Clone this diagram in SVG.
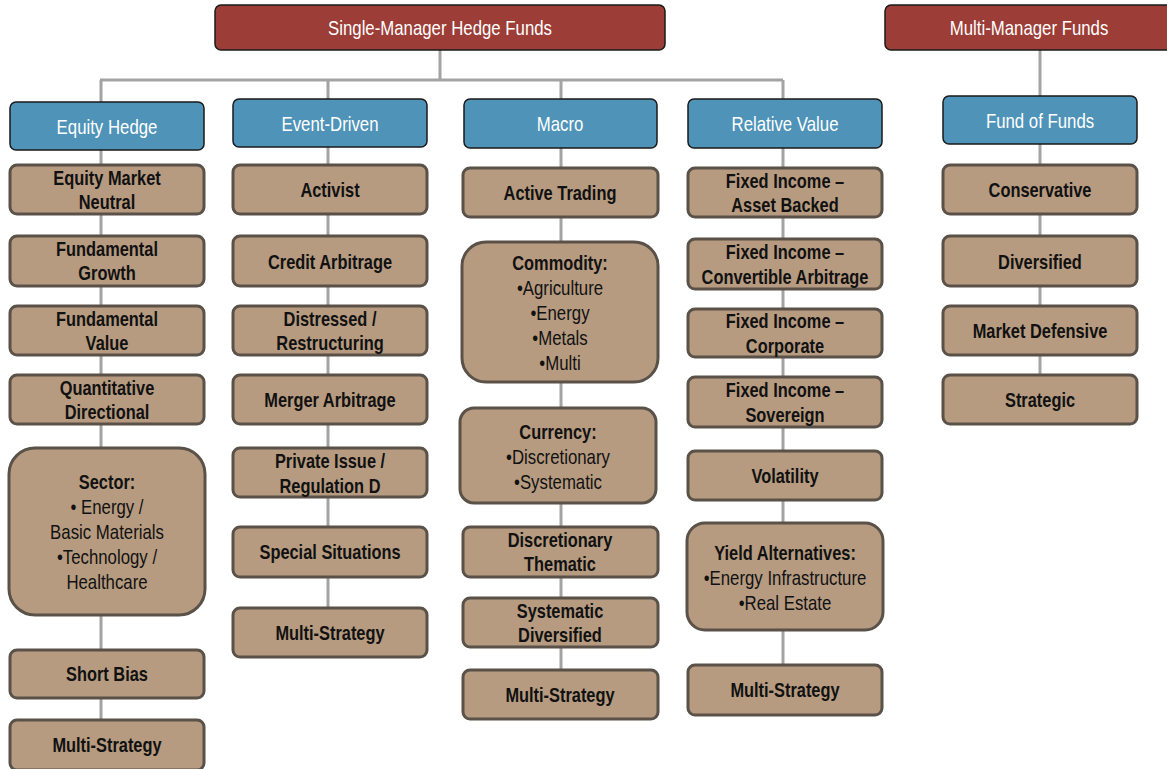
<svg xmlns="http://www.w3.org/2000/svg" width="1167" height="769" viewBox="0 0 1167 769">
<style>
.hdr{fill:#9c3d37;stroke:#1a1a1a;stroke-width:1.5}
.cat{fill:#4f93b8;stroke:#1a1a1a;stroke-width:1.5}
.sub{fill:#b69b80;stroke:#5a5149;stroke-width:3}
.conn{stroke:#a3a3a3;stroke-width:3;fill:none}
text{font-family:"Liberation Sans",Arial,sans-serif;text-anchor:middle;font-size:20px}
.ht{fill:#fff}
.ct{fill:#fff}
.st{fill:#111;font-weight:bold}
.bt{fill:#111;font-weight:normal}
</style>
<rect width="1167" height="769" fill="#fff"/>
<g id="connectors" class="conn">
<path d="M440 50V80M100 80H783M101 80V720M328 80V608M561 80V670M783 80V665M1040 50V375"/>
</g>
<g id="single-manager"><rect class="hdr" x="215" y="5" width="450" height="45" rx="6"/><text class="ht" transform="translate(440 35) scale(0.84 1)">Single-Manager Hedge Funds</text></g>
<g id="multi-manager"><rect class="hdr" x="885" y="5" width="290" height="45" rx="6"/><text class="ht" transform="translate(1029 35) scale(0.84 1)">Multi-Manager Funds</text></g>

<g id="equity-hedge"><rect class="cat" x="10" y="102" width="194" height="48" rx="6"/><text class="ct" transform="translate(107 134) scale(0.84 1)">Equity Hedge</text></g>
<g id="event-driven"><rect class="cat" x="233" y="99" width="194" height="48" rx="6"/><text class="ct" transform="translate(330 131) scale(0.84 1)">Event-Driven</text></g>
<g id="macro"><rect class="cat" x="464" y="99" width="193" height="49" rx="6"/><text class="ct" transform="translate(560 131) scale(0.84 1)">Macro</text></g>
<g id="relative-value"><rect class="cat" x="688" y="99" width="194" height="49" rx="6"/><text class="ct" transform="translate(785 131) scale(0.84 1)">Relative Value</text></g>
<g id="fund-of-funds"><rect class="cat" x="943" y="96" width="194" height="48" rx="6"/><text class="ct" transform="translate(1040 128) scale(0.84 1)">Fund of Funds</text></g>

<g id="eh-emn"><rect class="sub" x="10" y="165" width="194" height="49" rx="7"/><text class="st" transform="translate(107 185) scale(0.82 1)">Equity Market</text><text class="st" transform="translate(107 209) scale(0.82 1)">Neutral</text></g>
<g id="eh-fg"><rect class="sub" x="10" y="236" width="194" height="50" rx="7"/><text class="st" transform="translate(107 256) scale(0.82 1)">Fundamental</text><text class="st" transform="translate(107 280) scale(0.82 1)">Growth</text></g>
<g id="eh-fv"><rect class="sub" x="10" y="306" width="194" height="49" rx="7"/><text class="st" transform="translate(107 326) scale(0.82 1)">Fundamental</text><text class="st" transform="translate(107 350) scale(0.82 1)">Value</text></g>
<g id="eh-qd"><rect class="sub" x="10" y="375" width="194" height="49" rx="7"/><text class="st" transform="translate(107 395) scale(0.82 1)">Quantitative</text><text class="st" transform="translate(107 419) scale(0.82 1)">Directional</text></g>
<g id="eh-sector"><rect class="sub" x="9" y="448" width="196" height="167" rx="26"/><text class="st" transform="translate(107 489) scale(0.82 1)">Sector:</text><text class="bt" transform="translate(107 514) scale(0.84 1)">• Energy /</text><text class="bt" transform="translate(107 539) scale(0.84 1)">Basic Materials</text><text class="bt" transform="translate(107 564) scale(0.84 1)">•Technology /</text><text class="bt" transform="translate(107 589) scale(0.84 1)">Healthcare</text></g>
<g id="eh-sb"><rect class="sub" x="10" y="650" width="194" height="48" rx="7"/><text class="st" transform="translate(107 681) scale(0.82 1)">Short Bias</text></g>
<g id="eh-ms"><rect class="sub" x="10" y="720" width="194" height="50" rx="7"/><text class="st" transform="translate(107 752) scale(0.82 1)">Multi-Strategy</text></g>

<g id="ed-act"><rect class="sub" x="233" y="165" width="194" height="49" rx="7"/><text class="st" transform="translate(330 197) scale(0.82 1)">Activist</text></g>
<g id="ed-ca"><rect class="sub" x="233" y="236" width="194" height="50" rx="7"/><text class="st" transform="translate(330 269) scale(0.82 1)">Credit Arbitrage</text></g>
<g id="ed-dr"><rect class="sub" x="233" y="306" width="194" height="49" rx="7"/><text class="st" transform="translate(330 326) scale(0.82 1)">Distressed /</text><text class="st" transform="translate(330 350) scale(0.82 1)">Restructuring</text></g>
<g id="ed-ma"><rect class="sub" x="233" y="375" width="194" height="49" rx="7"/><text class="st" transform="translate(330 407) scale(0.82 1)">Merger Arbitrage</text></g>
<g id="ed-pi"><rect class="sub" x="233" y="448" width="194" height="49" rx="7"/><text class="st" transform="translate(330 468) scale(0.82 1)">Private Issue /</text><text class="st" transform="translate(330 493) scale(0.82 1)">Regulation D</text></g>
<g id="ed-ss"><rect class="sub" x="233" y="527" width="194" height="50" rx="7"/><text class="st" transform="translate(330 559) scale(0.82 1)">Special Situations</text></g>
<g id="ed-ms"><rect class="sub" x="233" y="608" width="194" height="49" rx="7"/><text class="st" transform="translate(330 640) scale(0.82 1)">Multi-Strategy</text></g>

<g id="ma-at"><rect class="sub" x="463" y="168" width="195" height="49" rx="7"/><text class="st" transform="translate(560 200) scale(0.82 1)">Active Trading</text></g>
<g id="ma-com"><rect class="sub" x="462" y="242" width="196" height="140" rx="24"/><text class="st" transform="translate(560 270) scale(0.82 1)">Commodity:</text><text class="bt" transform="translate(560 295) scale(0.84 1)">•Agriculture</text><text class="bt" transform="translate(560 320) scale(0.84 1)">•Energy</text><text class="bt" transform="translate(560 345) scale(0.84 1)">•Metals</text><text class="bt" transform="translate(560 370) scale(0.84 1)">•Multi</text></g>
<g id="ma-cur"><rect class="sub" x="460" y="408" width="196" height="95" rx="14"/><text class="st" transform="translate(558 439) scale(0.82 1)">Currency:</text><text class="bt" transform="translate(558 464) scale(0.84 1)">•Discretionary</text><text class="bt" transform="translate(558 489) scale(0.84 1)">•Systematic</text></g>
<g id="ma-dt"><rect class="sub" x="463" y="527" width="195" height="50" rx="7"/><text class="st" transform="translate(560 547) scale(0.82 1)">Discretionary</text><text class="st" transform="translate(560 571) scale(0.82 1)">Thematic</text></g>
<g id="ma-sd"><rect class="sub" x="463" y="598" width="195" height="49" rx="7"/><text class="st" transform="translate(560 618) scale(0.82 1)">Systematic</text><text class="st" transform="translate(560 642) scale(0.82 1)">Diversified</text></g>
<g id="ma-ms"><rect class="sub" x="463" y="670" width="195" height="49" rx="7"/><text class="st" transform="translate(560 702) scale(0.82 1)">Multi-Strategy</text></g>

<g id="rv-ab"><rect class="sub" x="688" y="168" width="194" height="49" rx="7"/><text class="st" transform="translate(785 188) scale(0.82 1)">Fixed Income –</text><text class="st" transform="translate(785 212) scale(0.82 1)">Asset Backed</text></g>
<g id="rv-cv"><rect class="sub" x="688" y="239" width="194" height="50" rx="7"/><text class="st" transform="translate(785 259) scale(0.82 1)">Fixed Income –</text><text class="st" transform="translate(785 284) scale(0.82 1)">Convertible Arbitrage</text></g>
<g id="rv-co"><rect class="sub" x="688" y="309" width="194" height="48" rx="7"/><text class="st" transform="translate(785 328) scale(0.82 1)">Fixed Income –</text><text class="st" transform="translate(785 353) scale(0.82 1)">Corporate</text></g>
<g id="rv-so"><rect class="sub" x="688" y="377" width="194" height="50" rx="7"/><text class="st" transform="translate(785 397) scale(0.82 1)">Fixed Income –</text><text class="st" transform="translate(785 422) scale(0.82 1)">Sovereign</text></g>
<g id="rv-vol"><rect class="sub" x="688" y="451" width="194" height="49" rx="7"/><text class="st" transform="translate(785 483) scale(0.82 1)">Volatility</text></g>
<g id="rv-ya"><rect class="sub" x="687" y="523" width="196" height="107" rx="18"/><text class="st" transform="translate(785 560) scale(0.82 1)">Yield Alternatives:</text><text class="bt" transform="translate(785 585) scale(0.84 1)">•Energy Infrastructure</text><text class="bt" transform="translate(785 610) scale(0.84 1)">•Real Estate</text></g>
<g id="rv-ms"><rect class="sub" x="688" y="665" width="194" height="50" rx="7"/><text class="st" transform="translate(785 697) scale(0.82 1)">Multi-Strategy</text></g>

<g id="ff-con"><rect class="sub" x="943" y="165" width="194" height="49" rx="7"/><text class="st" transform="translate(1040 197) scale(0.82 1)">Conservative</text></g>
<g id="ff-div"><rect class="sub" x="943" y="236" width="194" height="50" rx="7"/><text class="st" transform="translate(1040 269) scale(0.82 1)">Diversified</text></g>
<g id="ff-md"><rect class="sub" x="943" y="306" width="194" height="49" rx="7"/><text class="st" transform="translate(1040 338) scale(0.82 1)">Market Defensive</text></g>
<g id="ff-str"><rect class="sub" x="943" y="375" width="194" height="49" rx="7"/><text class="st" transform="translate(1040 407) scale(0.82 1)">Strategic</text></g>
</svg>
